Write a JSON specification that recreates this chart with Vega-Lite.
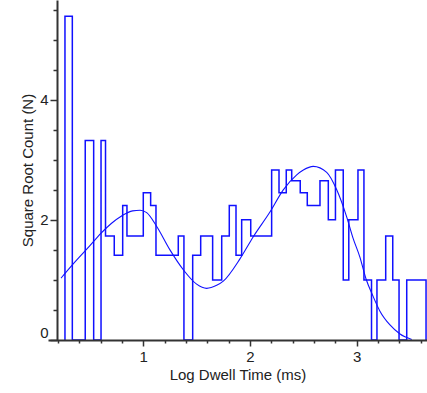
{
  "$schema": "https://vega.github.io/schema/vega-lite/v6.json",
  "width": 379,
  "height": 340,
  "autosize": {"type": "none"},
  "padding": {"left": 48, "top": 0, "right": 0, "bottom": 53},
  "background": "white",
  "config": {"view": {"stroke": null}, "font": "Liberation Sans"},
  "resolve": {"axis": {"x": "independent", "y": "independent"}},
  "datasets": {
    "hist": [
      {"i": 0, "x": 0.266, "y": 0},
      {"i": 1, "x": 0.266, "y": 5.39},
      {"i": 2, "x": 0.335, "y": 0},
      {"i": 3, "x": 0.456, "y": 3.32},
      {"i": 4, "x": 0.535, "y": 0},
      {"i": 5, "x": 0.604, "y": 3.32},
      {"i": 6, "x": 0.646, "y": 1.73},
      {"i": 7, "x": 0.728, "y": 1.41},
      {"i": 8, "x": 0.807, "y": 2.24},
      {"i": 9, "x": 0.847, "y": 1.73},
      {"i": 10, "x": 1.0, "y": 2.45},
      {"i": 11, "x": 1.069, "y": 2.24},
      {"i": 12, "x": 1.119, "y": 1.41},
      {"i": 13, "x": 1.328, "y": 1.73},
      {"i": 14, "x": 1.381, "y": 0},
      {"i": 15, "x": 1.463, "y": 1.41},
      {"i": 16, "x": 1.538, "y": 1.73},
      {"i": 17, "x": 1.65, "y": 1.0},
      {"i": 18, "x": 1.735, "y": 1.73},
      {"i": 19, "x": 1.806, "y": 2.24},
      {"i": 20, "x": 1.869, "y": 1.41},
      {"i": 21, "x": 1.922, "y": 2.0},
      {"i": 22, "x": 2.007, "y": 1.73},
      {"i": 23, "x": 2.203, "y": 2.83},
      {"i": 24, "x": 2.272, "y": 2.45},
      {"i": 25, "x": 2.34, "y": 2.83},
      {"i": 26, "x": 2.391, "y": 2.65},
      {"i": 27, "x": 2.471, "y": 2.45},
      {"i": 28, "x": 2.537, "y": 2.24},
      {"i": 29, "x": 2.656, "y": 2.65},
      {"i": 30, "x": 2.734, "y": 2.0},
      {"i": 31, "x": 2.801, "y": 2.83},
      {"i": 32, "x": 2.874, "y": 1.0},
      {"i": 33, "x": 2.926, "y": 2.0},
      {"i": 34, "x": 3.012, "y": 2.83},
      {"i": 35, "x": 3.068, "y": 1.0},
      {"i": 36, "x": 3.139, "y": 0},
      {"i": 37, "x": 3.19, "y": 1.0},
      {"i": 38, "x": 3.272, "y": 1.73},
      {"i": 39, "x": 3.338, "y": 1.0},
      {"i": 40, "x": 3.397, "y": 0},
      {"i": 41, "x": 3.469, "y": 1.0},
      {"i": 42, "x": 3.65, "y": 1.0},
      {"i": 43, "x": 3.65, "y": 0}
    ],
    "fit": [
      {"x": 0.229, "y": 1.03},
      {"x": 0.36, "y": 1.3},
      {"x": 0.5, "y": 1.57},
      {"x": 0.6, "y": 1.77},
      {"x": 0.7, "y": 1.94},
      {"x": 0.8, "y": 2.07},
      {"x": 0.9, "y": 2.15},
      {"x": 0.97, "y": 2.16},
      {"x": 1.032, "y": 2.12},
      {"x": 1.126, "y": 1.89},
      {"x": 1.25, "y": 1.5},
      {"x": 1.375, "y": 1.17},
      {"x": 1.5, "y": 0.93},
      {"x": 1.594, "y": 0.86},
      {"x": 1.688, "y": 0.91},
      {"x": 1.75, "y": 0.98},
      {"x": 1.906, "y": 1.35},
      {"x": 2.031, "y": 1.72},
      {"x": 2.187, "y": 2.13},
      {"x": 2.312, "y": 2.5},
      {"x": 2.438, "y": 2.75},
      {"x": 2.5, "y": 2.83},
      {"x": 2.593, "y": 2.89},
      {"x": 2.719, "y": 2.79},
      {"x": 2.813, "y": 2.5},
      {"x": 2.906, "y": 2.05},
      {"x": 2.965, "y": 1.7},
      {"x": 3.03, "y": 1.38},
      {"x": 3.087, "y": 1.02},
      {"x": 3.153, "y": 0.73},
      {"x": 3.218, "y": 0.48},
      {"x": 3.312, "y": 0.25},
      {"x": 3.406, "y": 0.1},
      {"x": 3.516, "y": 0.01}
    ]
  },
  "layer": [
    {
      "data": {"name": "hist"},
      "mark": {"type": "line", "interpolate": "step-after", "color": "#1010ff", "strokeWidth": 1.5, "clip": true},
      "encoding": {
        "x": {
          "field": "x", "type": "quantitative",
          "scale": {"domain": [0.107, 3.659], "nice": false, "zero": false},
          "title": "Log Dwell Time (ms)",
          "axis": {
            "orient": "bottom",
            "values": [1, 2, 3],
            "format": "d",
            "tickSize": 6,
            "tickColor": "#333333", "tickWidth": 1.5,
            "domainColor": "#333333", "domainWidth": 2,
            "labelFontSize": 15, "labelColor": "#222222", "labelPadding": 3,
            "labelFlush": false, "labelOverlap": false,
            "titleFontSize": 15, "titleColor": "#222222", "titleFontWeight": "normal", "titlePadding": 3,
            "grid": false, "zindex": 1
          }
        },
        "y": {
          "field": "y", "type": "quantitative",
          "scale": {"domain": [0, 5.66], "nice": false},
          "title": "Square Root Count (N)",
          "axis": {
            "orient": "left",
            "values": [0, 2, 4],
            "format": "d",
            "tickSize": 7,
            "tickColor": "#333333", "tickWidth": 1.5,
            "domainColor": "#333333", "domainWidth": 2,
            "offset": -9,
            "labelFontSize": 15, "labelColor": "#222222", "labelPadding": 2,
            "labelFlush": true, "labelOverlap": false,
            "titleFontSize": 15, "titleColor": "#222222", "titleFontWeight": "normal", "titlePadding": 4,
            "grid": false, "zindex": 1
          }
        },
        "order": {"field": "i", "type": "quantitative"}
      }
    },
    {
      "data": {"name": "fit"},
      "mark": {"type": "line", "interpolate": "monotone", "color": "#1010ff", "strokeWidth": 1.1, "clip": true},
      "encoding": {
        "x": {
          "field": "x", "type": "quantitative",
          "axis": {
            "orient": "bottom", "title": null, "labels": false, "domain": false, "grid": false,
            "values": [0.2, 0.4, 0.6, 0.8, 1.2, 1.4, 1.6, 1.8, 2.2, 2.4, 2.6, 2.8, 3.2, 3.4, 3.6],
            "tickSize": 3, "tickColor": "#333333", "tickWidth": 1.5, "zindex": 1
          }
        },
        "y": {
          "field": "y", "type": "quantitative",
          "axis": {
            "orient": "left", "title": null, "labels": false, "domain": false, "grid": false, "offset": -9,
            "values": [0.5, 1, 1.5, 2.5, 3, 3.5, 4.5, 5, 5.5],
            "tickSize": 4, "tickColor": "#333333", "tickWidth": 1.5, "zindex": 1
          }
        }
      }
    }
  ]
}
